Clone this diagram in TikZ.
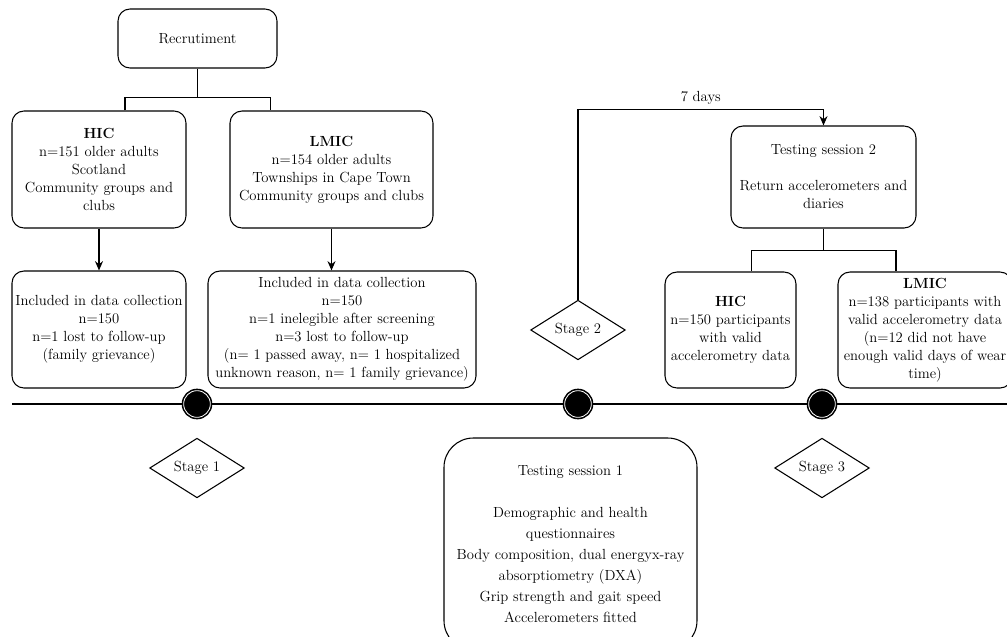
\documentclass[tikz,border=0pt]{standalone}
\usepackage{xcolor}
\usepackage{tikz}
\usetikzlibrary{shapes, arrows.meta, positioning}

\begin{document}
\begin{tikzpicture}[x=0.75pt, y=-0.75pt, font=\fontsize{11}{13.5}\selectfont]
    \tikzstyle{box} = [draw, rectangle, rounded corners=9pt, align=center, inner sep=1pt, line width=0.8pt]
    \tikzstyle{stage} = [draw, diamond, inner sep=0pt, minimum width=71pt, minimum height=43.5pt, line width=0.8pt]
    \tikzstyle{dot} = [circle, draw=black, double=white, double distance=0.6pt, line width=1.2pt, fill=black, minimum size=20pt]
    \tikzstyle{line} = [draw, line width=0.8pt, -{Stealth[length=7pt, width=6pt]}]

    \clip (0,0) rectangle (1007,636);

    % Recruitment
    \node[box, minimum width=119.25pt, minimum height=44.25pt] (rec) at (197.5,38.5) {Recrutiment};
    \node[box, minimum width=130.5pt, minimum height=87.75pt] (hic) at (99,169.5)
        {\textbf{HIC}\\n=151 older adults\\Scotland\\Community groups and\\clubs};
    \node[box, minimum width=152.25pt, minimum height=87.75pt] (lmic) at (331.5,169.5)
        {\textbf{LMIC}\\n=154 older adults\\Townships in Cape Town\\Community groups and clubs};

    % Included
    \node[box, minimum width=130.5pt, minimum height=87.75pt] (inchic) at (99,329.5)
        {Included in data collection\\n=150\\n=1 lost to follow-up\\(family grievance)};
    \node[box, minimum width=201pt, minimum height=87.75pt] (inclmic) at (342,329.5)
        {Included in data collection\\n=150\\n=1 inelegible after screening\\n=3 lost to follow-up\\(n= 1 passed away, n= 1 hospitalized\\unknown reason, n= 1 family grievance)};

    % Timeline
    \coordinate (tlstart) at (12,404);
    \coordinate (tlend) at (1007,404);
    \draw[line width=1pt] (tlstart) -- (tlend);
    \node[dot] (d1) at (197,404) {};
    \node[dot] (d2) at (578,404) {};
    \node[dot] (d3) at (822,404) {};

    % Stages
    \node[stage] (stage1) at (197,468) {Stage 1};
    \node[stage] (stage2) at (578,330) {Stage 2};
    \node[stage] (stage3) at (822,468) {Stage 3};

    % Testing sessions
    \node[box, rounded corners=22pt, minimum width=189.75pt, minimum height=159pt, font=\fontsize{11}{15.75}\selectfont] (ts1) at (570.5,544)
        {Testing session 1\\[15.75pt]Demographic and health\\questionnaires\\Body composition, dual energyx-ray\\absorptiometry (DXA)\\Grip strength and gait speed\\Accelerometers fitted};
    \node[box, minimum width=138.75pt, minimum height=76.5pt] (ts2) at (823.5,177)
        {Testing session 2\\[13.5pt]Return accelerometers and\\diaries};
    \node[box, minimum width=98.25pt, minimum height=87pt] (hic2) at (730.5,330)
        {\textbf{HIC}\\n=150 participants\\with valid\\accelerometry data};
    \node[box, minimum width=130.5pt, minimum height=87pt] (lmic2) at (925,330)
        {\textbf{LMIC}\\n=138 participants with\\valid accelerometry data\\(n=12 did not have\\enough valid days of wear\\time)};

    % Connections
    \draw[line width=0.8pt] (rec.south) -- ++(0,29) coordinate (split1);
    \draw[line width=0.8pt] ([xshift=19.5pt]hic.north) |- (split1) -| ([xshift=-46.1pt]lmic.north);
    \draw[line] (hic) -- (inchic);
    \draw[line] (lmic.south) -- (lmic.south |- inclmic.north);
    \draw[line] (stage2.north) -- ++(0,-190) -| (ts2.north) node[pos=0.25, above] {7 days};
    \draw[line width=0.8pt] (ts2.south) -- ++(0,22) coordinate (split2);
    \draw[line width=0.8pt] ([xshift=15.4pt]hic2.north) |- (split2) -| ([xshift=-21.75pt]lmic2.north);
\end{tikzpicture}
\end{document}
